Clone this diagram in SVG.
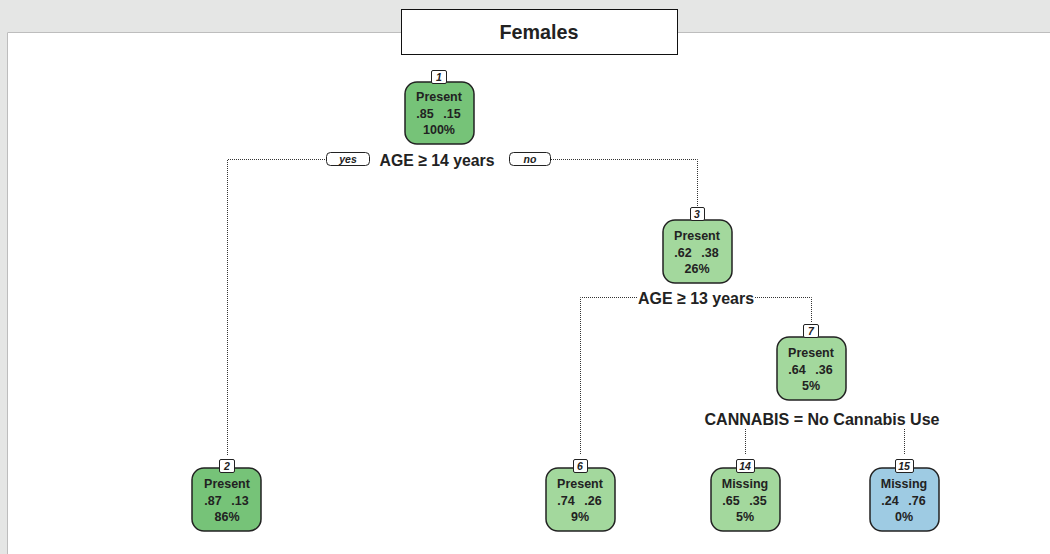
<svg xmlns="http://www.w3.org/2000/svg" width="1050" height="554" viewBox="0 0 1050 554">
<style>
text{font-family:"Liberation Sans",Arial,sans-serif;fill:#222;font-weight:bold}
.node{stroke:#222;stroke-width:1.5}
.dg{fill:#76c378}
.lg{fill:#a3d89d}
.bl{fill:#9ecbe3}
.nt{font-size:12.5px;text-anchor:middle}
.lb{fill:#fff;stroke:#222;stroke-width:1}
.lt{font-size:10.5px;font-style:italic;text-anchor:middle}
.split{font-size:17px;text-anchor:middle}
.con{fill:none;stroke:#333;stroke-width:1;stroke-dasharray:1,1}
</style>
<rect x="0" y="0" width="1050" height="554" fill="#e5e6e5"/>
<rect x="7" y="32" width="1043" height="522" fill="#fff"/>
<path d="M7.5,554 V32.5 H1050" fill="none" stroke="#bdbdbd" stroke-width="1"/>
<g id="title">
<rect x="401.5" y="9.5" width="276" height="45" fill="#fff" stroke="#111" stroke-width="1"/>
<text x="539" y="39" font-size="21" text-anchor="middle" textLength="79" lengthAdjust="spacingAndGlyphs">Females</text>
</g>
<g id="connectors">
<path class="con" d="M325,159.5 H227.5 V455"/>
<path class="con" d="M551,159.5 H697.5 V206"/>
<path class="con" d="M637,297.5 H580.5 V455"/>
<path class="con" d="M755,297.5 H811.5 V323"/>
<path class="con" d="M745.5,429 V455"/>
<path class="con" d="M904.5,429 V455"/>
</g>
<g id="splits">
<rect x="326.5" y="152.5" width="43" height="13" rx="4" fill="#fff" stroke="#222"/>
<text class="lt" x="348" y="163">yes</text>
<text class="split" x="437" y="166" textLength="115" lengthAdjust="spacingAndGlyphs">AGE ≥ 14 years</text>
<rect x="509.5" y="152.5" width="41" height="13" rx="4" fill="#fff" stroke="#222"/>
<text class="lt" x="530" y="163">no</text>
<text class="split" x="696" y="304" textLength="116" lengthAdjust="spacingAndGlyphs">AGE ≥ 13 years</text>
<text class="split" x="822" y="425" textLength="235" lengthAdjust="spacingAndGlyphs">CANNABIS = No Cannabis Use</text>
</g>
<g id="node1">
<rect class="node dg" x="405" y="82" width="69" height="62" rx="12"/>
<rect class="lb" x="431.5" y="70.5" width="15" height="13" rx="1.5"/>
<text class="lt" x="439" y="81">1</text>
<text class="nt" x="439" y="101">Present</text>
<text class="nt" x="425" y="118">.85</text><text class="nt" x="452" y="118">.15</text>
<text class="nt" x="439" y="134">100%</text>
</g>
<g id="node3">
<rect class="node lg" x="663" y="220" width="69" height="63" rx="12"/>
<rect class="lb" x="690.5" y="207.5" width="14" height="13" rx="1.5"/>
<text class="lt" x="697" y="218">3</text>
<text class="nt" x="697" y="240">Present</text>
<text class="nt" x="683" y="257">.62</text><text class="nt" x="710" y="257">.38</text>
<text class="nt" x="697" y="273">26%</text>
</g>
<g id="node7">
<rect class="node lg" x="777" y="337" width="69" height="63" rx="12"/>
<rect class="lb" x="803.5" y="324.5" width="15" height="13" rx="1.5"/>
<text class="lt" x="811" y="335">7</text>
<text class="nt" x="811" y="357">Present</text>
<text class="nt" x="797" y="374">.64</text><text class="nt" x="824" y="374">.36</text>
<text class="nt" x="811" y="390">5%</text>
</g>
<g id="node2">
<rect class="node dg" x="192" y="468" width="69" height="63" rx="12"/>
<rect class="lb" x="219.5" y="459.5" width="15" height="13" rx="1.5"/>
<text class="lt" x="227" y="470">2</text>
<text class="nt" x="227" y="488">Present</text>
<text class="nt" x="213" y="505">.87</text><text class="nt" x="240" y="505">.13</text>
<text class="nt" x="227" y="521">86%</text>
</g>
<g id="node6">
<rect class="node lg" x="546" y="468" width="69" height="63" rx="12"/>
<rect class="lb" x="573.5" y="459.5" width="14" height="13" rx="1.5"/>
<text class="lt" x="580" y="470">6</text>
<text class="nt" x="580" y="488">Present</text>
<text class="nt" x="566" y="505">.74</text><text class="nt" x="593" y="505">.26</text>
<text class="nt" x="580" y="521">9%</text>
</g>
<g id="node14">
<rect class="node lg" x="711" y="468" width="69" height="63" rx="12"/>
<rect class="lb" x="736.5" y="459.5" width="18" height="13" rx="1.5"/>
<text class="lt" x="745" y="470">14</text>
<text class="nt" x="745" y="488">Missing</text>
<text class="nt" x="731" y="505">.65</text><text class="nt" x="758" y="505">.35</text>
<text class="nt" x="745" y="521">5%</text>
</g>
<g id="node15">
<rect class="node bl" x="870" y="468" width="69" height="63" rx="12"/>
<rect class="lb" x="895.5" y="459.5" width="18" height="13" rx="1.5"/>
<text class="lt" x="904" y="470">15</text>
<text class="nt" x="904" y="488">Missing</text>
<text class="nt" x="890" y="505">.24</text><text class="nt" x="917" y="505">.76</text>
<text class="nt" x="904" y="521">0%</text>
</g>
</svg>
